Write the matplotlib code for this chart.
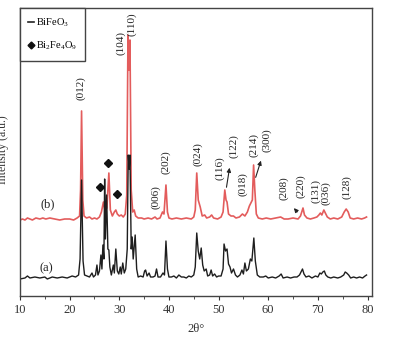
import matplotlib
matplotlib.use('Agg')
import matplotlib.pyplot as plt
from matplotlib.lines import Line2D
from matplotlib.ticker import MultipleLocator

plt.rcParams['font.family'] = ['Liberation Serif', 'DejaVu Serif']
plt.rcParams['mathtext.fontset'] = 'custom'
plt.rcParams['mathtext.rm'] = 'Liberation Serif'

# sample (a): 2theta and intensity above its baseline
a_2t = [10.0, 11, 11.5, 12, 13, 14, 15, 15.5, 16.5, 17.5, 18.5, 19.5, 20.5, 21.2, 21.8,
        22.1, 22.4, 22.7, 23.0, 23.5, 24.0, 24.5, 24.8, 25.2, 25.5, 25.7, 26.0, 26.3,
        26.5, 26.7, 26.9, 27.05, 27.2, 27.45, 27.7, 27.9, 28.1, 28.4, 28.8, 29.0, 29.3,
        29.6, 29.9, 30.2, 30.4, 30.7, 31.0, 31.3, 31.6, 31.8, 32.0, 32.15, 32.4, 32.6,
        32.8, 33.2, 33.5, 33.8, 34.3, 34.8, 35.1, 35.3, 35.6, 36.0, 36.3, 36.8, 37.2,
        37.5, 37.8, 38.3, 38.8, 39.1, 39.4, 39.7, 40.0, 40.5, 41.0, 41.5, 42.0, 42.5,
        43.0, 43.5, 44.0, 44.5, 45.0, 45.3, 45.6, 45.9, 46.2, 46.5, 46.8, 47.1, 47.5,
        47.8, 48.2, 48.5, 48.8, 49.2, 49.6, 50.0, 50.5, 50.9, 51.1, 51.4, 51.7, 52.0,
        52.3, 52.6, 53.0, 53.4, 53.8, 54.3, 54.7, 55.0, 55.3, 55.6, 56.0, 56.4, 56.7,
        57.1, 57.4, 57.8, 58.3, 59.0, 59.5, 60.0, 60.8, 61.5, 62.2, 62.6, 63.0, 63.8,
        64.5, 65.2, 65.8, 66.3, 66.6, 66.9, 67.2, 67.6, 68.2, 68.8, 69.5, 70.0, 70.4,
        70.7, 71.0, 71.3, 71.6, 72.0, 72.6, 73.2, 74.0, 74.6, 75.2, 75.5, 75.8, 76.2,
        76.6, 77.2, 77.8, 78.4, 79.0, 79.5, 79.8]
a_int = [0, 1, 3, 1, 2, 1, 2, 0, 2, 1, 2, 1, 3, 2, 4,
         20, 99, 18, 4, 3, 2, 6, 2, 4, 14, 4, 8, 24,
         10, 34, 20, 100, 40, 84, 30, 29, 12, 4, 14, 6, 30,
         8, 5, 12, 5, 16, 6, 10, 30, 124, 110, 124, 30, 42,
         20, 44, 10, 2, 3, 2, 8, 9, 3, 6, 2, 2, 3,
         10, 2, 2, 6, 4, 38, 10, 2, 2, 3, 1, 4, 2,
         2, 1, 3, 2, 4, 12, 46, 28, 20, 31, 14, 8, 10,
         3, 4, 9, 3, 5, 2, 3, 3, 10, 35, 28, 30, 15,
         12, 6, 10, 4, 2, 4, 9, 5, 16, 8, 10, 20, 18,
         41, 18, 4, 2, 2, 3, 1, 2, 1, 3, 5, 1, 2,
         1, 2, 2, 4, 7, 10, 5, 2, 3, 1, 3, 2, 6,
         5, 7, 8, 4, 2, 1, 2, 1, 2, 4, 7, 6, 4,
         1, 2, 1, 2, 1, 3, 4]

# sample (b)
b_2t = [10.0, 10.5, 11, 11.5, 12, 12.5, 13.2, 14, 14.6, 15.2, 16, 17, 18, 19, 20, 20.8,
        21.5, 22.0, 22.2, 22.4, 22.65, 22.9, 23.4, 24, 24.5, 25, 25.5, 26.0, 26.4, 26.8,
        27.1, 27.5, 27.9, 28.2, 28.6, 29.0, 29.3, 29.6, 30.0, 30.4, 30.8, 31.2, 31.5,
        31.75, 31.95, 32.15, 32.4, 32.7, 33.0, 33.3, 33.8, 34.5, 35, 35.8, 36.5, 37.2,
        37.6, 38.2, 38.7, 39.0, 39.4, 39.7, 40.0, 40.6, 41.5, 42.5, 43.5, 44.5, 45.0,
        45.3, 45.6, 45.9, 46.3, 46.7, 47.2, 47.6, 48.2, 48.6, 49.0, 49.8, 50.5, 50.9,
        51.25, 51.5, 51.7, 52.0, 52.5, 53.0, 53.5, 54.2, 54.8, 55.3, 55.8, 56.2, 56.5,
        56.8, 57.05, 57.3, 57.6, 58.0, 58.8, 59.6, 60.5, 61.5, 62.5, 63.2, 64.0, 65.0,
        66.0, 66.5, 66.8, 67.0, 67.3, 67.8, 68.5, 69.2, 69.8, 70.2, 70.5, 70.8, 71.2,
        71.5, 71.9, 72.5, 73.2, 74.0, 74.8, 75.3, 75.7, 76.1, 76.5, 77.2, 78.0, 78.8,
        79.4, 79.8]
b_int = [0, 1, 0, 2, 1, 0, 2, 1, 2, 1, 2, 1, 0, 1, 1, 0,
         2, 4, 30, 109, 20, 4, 2, 3, 1, 2, 1, 3, 8, 18,
         10, 12, 47, 10, 4, 8, 10, 6, 4, 5, 3, 6, 25,
         185, 150, 180, 30, 8, 10, 4, 2, 2, 1, 2, 1, 3,
         1, 2, 8, 6, 35, 8, 2, 1, 2, 1, 2, 1, 3,
         10, 47, 20, 13, 4, 5, 2, 3, 5, 2, 1, 3, 8,
         30, 20, 18, 6, 4, 4, 2, 3, 6, 4, 8, 14, 17,
         20, 55, 30, 6, 2, 1, 2, 1, 2, 3, 1, 1, 2,
         1, 4, 9, 12, 5, 2, 1, 2, 3, 5, 7, 5, 10,
         7, 3, 1, 2, 1, 3, 8, 11, 8, 2, 1, 2, 1,
         2, 3]

# Bi2Fe4O9 markers (2theta, height on plot)
dia_2t = [26.1, 27.77, 29.46]
dia_y = [109, 133, 102]

# hkl labels: text, 2theta, height
hkl_text = ['(012)', '(104)', '(110)', '(006)', '(202)', '(024)', '(116)', '(122)',
            '(018)', '(214)', '(300)', '(208)', '(220)', '(131)', '(036)', '(128)']
hkl_2t = [22.3, 30.3, 32.55, 37.4, 39.3, 45.85, 50.3, 53.1,
          54.9, 57.1, 59.7, 63.05, 66.5, 69.6, 71.5, 75.9]
hkl_y = [208, 253, 272, 99, 134, 142, 128, 150,
         112, 151, 156, 108, 110, 105, 103, 109]

a_offset = 17
b_offset = 76

fig = plt.figure(figsize=(4.01, 3.40), dpi=100)
ax = fig.add_axes([20/401, 44/340, 352/401, 288/340])

ax.plot(b_2t, [v + b_offset for v in b_int], color='#e04a4a', lw=1.2, alpha=0.9)
ax.plot(a_2t, [v + a_offset for v in a_int], color='#1e1e1e', lw=1.0)
ax.plot(dia_2t, dia_y, linestyle='none', marker='D', ms=4, color='#111111')

for t, xx, yy in zip(hkl_text, hkl_2t, hkl_y):
    ax.text(xx, yy, t, rotation=90, ha='center', va='center', fontsize=8, color='#222222')

arr = dict(arrowstyle='-|>', color='#222222', lw=0.8, mutation_scale=6)
ax.annotate('', xy=(52.3, 131), xytext=(51.5, 106), arrowprops=arr)
ax.annotate('', xy=(58.7, 138), xytext=(57.3, 116), arrowprops=arr)
ax.annotate('', xy=(64.8, 90), xytext=(66.2, 82), arrowprops=arr)

ax.text(15.5, 92, '(b)', ha='center', va='center', fontsize=9, color='#222222')
ax.text(15.4, 28, '(a)', ha='center', va='center', fontsize=9, color='#222222')

ax.set_xlim(10, 80.9)
ax.set_ylim(0, 288)
ax.xaxis.set_major_locator(MultipleLocator(10))
ax.xaxis.set_minor_locator(MultipleLocator(5))
ax.tick_params(axis='x', which='major', direction='out', length=3, labelsize=9, pad=3,
               colors='#333333')
ax.tick_params(axis='x', which='minor', direction='out', length=2, colors='#333333')
ax.set_yticks([])
for s in ax.spines.values():
    s.set_color('#444444')
    s.set_linewidth(1.0)
ax.set_xlabel('2θ°', fontsize=9, labelpad=5, color='#333333')

fig.text(0.008, 0.56, 'Intensity (a.u.)', rotation=90, ha='center', va='center',
         fontsize=8.5, color='#333333')

handles = [Line2D([], [], color='#222222', lw=1.2),
           Line2D([], [], linestyle='none', marker='D', ms=3.5, color='#111111')]
leg = ax.legend(handles, ['BiFeO$_3$', 'Bi$_2$Fe$_4$O$_9$'], loc='upper left',
                bbox_to_anchor=(0, 1), borderaxespad=0, fontsize=7.5, handlelength=0.5,
                handletextpad=0.2, labelspacing=1.0, borderpad=0.8, fancybox=False,
                edgecolor='#444444', framealpha=1)
leg.get_frame().set_linewidth(1.0)

fig.savefig('out.png', dpi=100)
